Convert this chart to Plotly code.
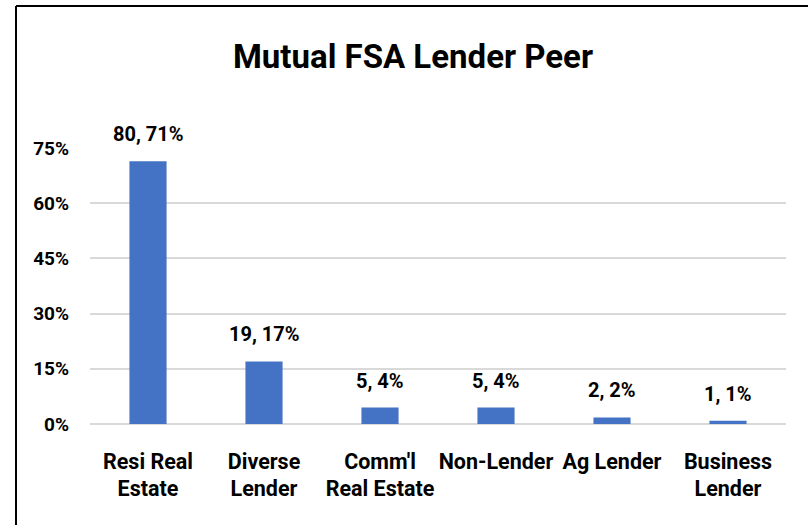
import plotly.graph_objects as go

categories = ["Resi Real<br>Estate", "Diverse<br>Lender", "Comm'l<br>Real Estate",
              "Non-Lender", "Ag Lender", "Business<br>Lender"]
counts = [80, 19, 5, 5, 2, 1]
shares = [0.714, 0.170, 0.0446, 0.0446, 0.0179, 0.0089]
y_ticks = [0, 0.15, 0.30, 0.45, 0.60, 0.75]
y_tick_labels = ["0%", "15%", "30%", "45%", "60%", "75%"]

FONT = "Roboto, 'Liberation Sans', Arial, sans-serif"
BAR_COLOR = "#4472C4"

W, H = 808, 525
L, R, T, B = 90, 22, 148, 101
pw, ph = W - L - R, H - T - B

fig = go.Figure()
fig.add_trace(go.Bar(
    x=categories, y=shares, marker=dict(color=BAR_COLOR, line=dict(width=0)),
    hoverinfo="skip",
))

for c, n, s in zip(categories, counts, shares):
    fig.add_annotation(
        x=c, y=s, xref="x", yref="y", text=f"<b>{n}, {s:.0%}</b>",
        showarrow=False, yanchor="bottom", yshift=13,
        font=dict(family=FONT, size=20, color="#000000"),
    )

# outer chart border (left and top edges visible in the reference)
x_left = (16 - L) / pw
x_right = (W - L) / pw
y_top = (H - B - 6) / ph
y_bot = (H - B - H) / ph
fig.add_shape(type="line", xref="paper", yref="paper", x0=x_left, x1=x_left,
              y0=y_top, y1=y_bot, line=dict(color="#000000", width=2))
fig.add_shape(type="line", xref="paper", yref="paper", x0=x_left, x1=x_right,
              y0=y_top, y1=y_top, line=dict(color="#000000", width=2))

fig.update_layout(
    width=W, height=H,
    margin=dict(l=L, r=R, t=T, b=B, autoexpand=False),
    paper_bgcolor="white", plot_bgcolor="white",
    showlegend=False, bargap=0.68,
    title=dict(text="<b>Mutual FSA Lender Peer</b>", x=413 / W, xanchor="center",
               xref="container",
               y=1 - 56 / H, yanchor="middle", yref="container",
               font=dict(family=FONT, size=33, color="#000000")),
    font=dict(family=FONT, color="#000000"),
)
fig.update_xaxes(
    showgrid=False, showline=False, zeroline=False, ticks="",
    tickfont=dict(family=FONT, size=21.5, color="#000000", weight="bold"),
    ticklabelstandoff=22,
)
fig.update_yaxes(
    range=[0, 0.75], tickvals=y_ticks, ticktext=y_tick_labels,
    showgrid=True, gridcolor="#d9d9d9", gridwidth=1.5,
    zeroline=True, zerolinecolor="#d9d9d9", zerolinewidth=1.5,
    showline=False, ticks="",
    tickfont=dict(family=FONT, size=19, color="#000000", weight="bold"),
    ticklabelstandoff=20,
)

fig.write_html("out.html", config={"displayModeBar": False},
               post_script="document.body.style.margin='0';")
